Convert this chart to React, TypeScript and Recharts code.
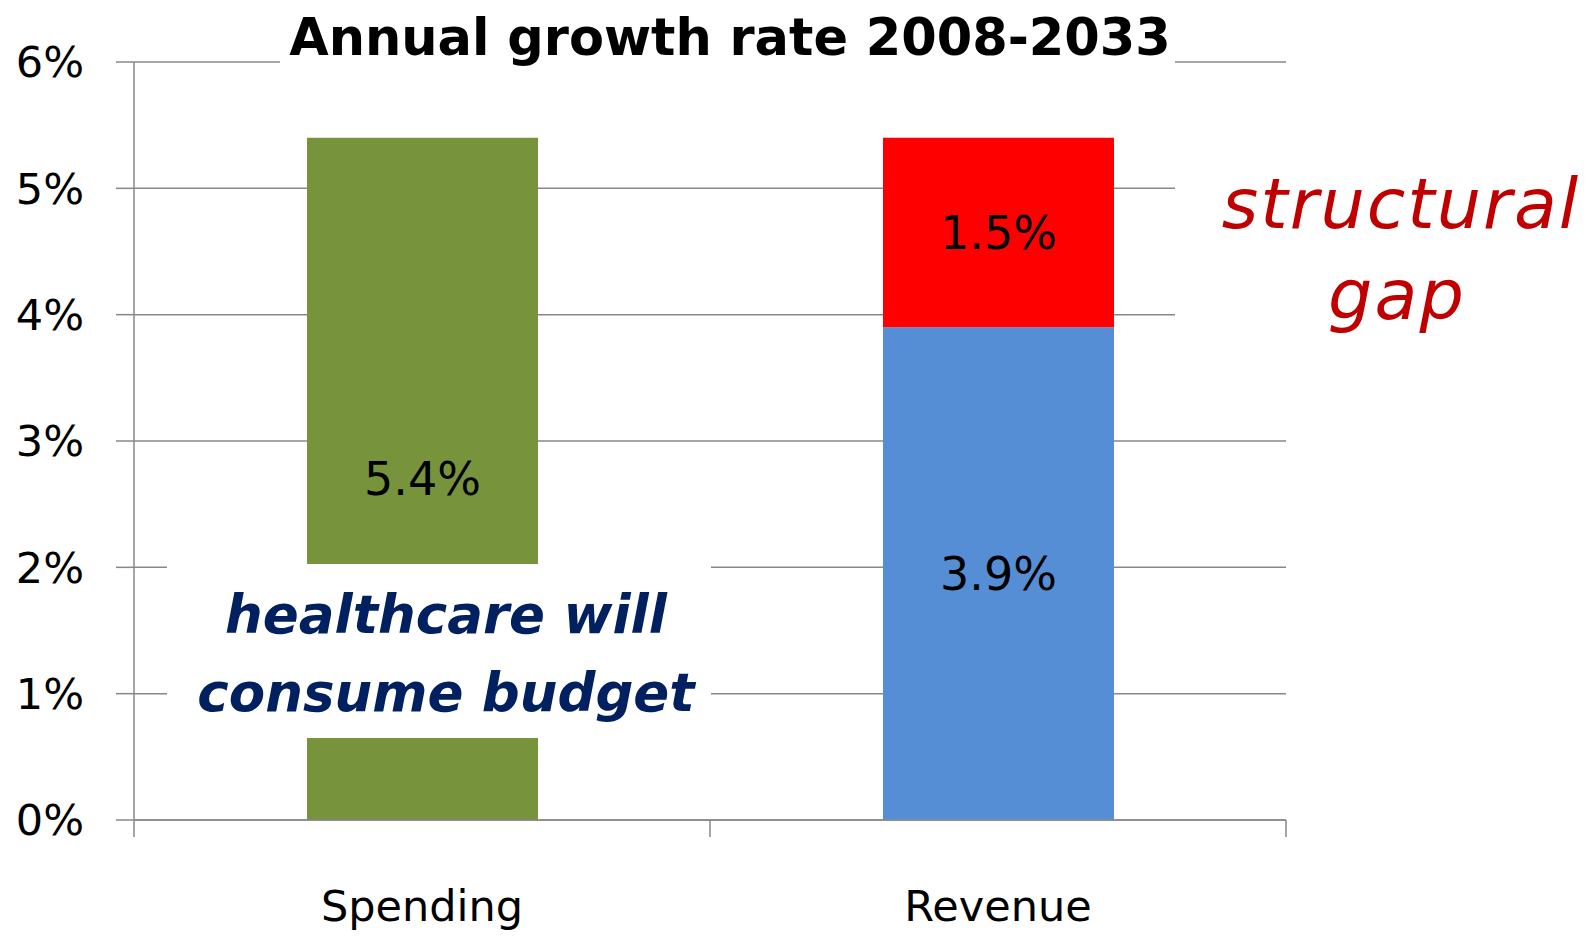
import React from 'react';
import { BarChart, Bar, XAxis, YAxis, CartesianGrid, Cell, LabelList } from 'recharts';

const categories = ['Spending', 'Revenue'];
const baseValues = [5.4, 3.9];
const gapValues = [0, 1.5];
const baseColors = ['#77933C', '#558ED5'];
const gapColor = '#FF0000';
const yTicks = [0, 1, 2, 3, 4, 5, 6];
const title = 'Annual growth rate 2008-2033';
const noteLeft = ['healthcare will', 'consume budget'];
const noteRight = ['structural', 'gap'];

const data = categories.map((c, i) => ({ name: c, base: baseValues[i], gap: gapValues[i] }));

const FONT = '"DejaVu Sans", Verdana, sans-serif';
const GRID = '#888888';
const W = 1591;
const H = 937;

const Overlay = () => (
  <svg width={W} height={H} style={{ position: 'absolute', left: 0, top: 0, pointerEvents: 'none' }}>
    <rect x={280} y={30} width={895} height={60} fill="#fff" />
    <text x={730} y={55} textAnchor="middle" fontFamily={FONT} fontWeight="bold" fontSize={51} fill="#000">{title}</text>
    <rect x={167} y={564} width={544} height={174} fill="#fff" />
    <text x={446} y={633} textAnchor="middle" fontFamily={FONT} fontWeight="bold" fontStyle="italic" fontSize={53} fill="#002060">{noteLeft[0]}</text>
    <text x={446} y={711} textAnchor="middle" fontFamily={FONT} fontWeight="bold" fontStyle="italic" fontSize={53} fill="#002060">{noteLeft[1]}</text>
    <rect x={1175} y={140} width={416} height={210} fill="#fff" />
    <text x={1401} y={228} textAnchor="middle" fontFamily={FONT} fontStyle="italic" fontSize={70} letterSpacing={2} fill="#C00000">{noteRight[0]}</text>
    <text x={1397} y={319} textAnchor="middle" fontFamily={FONT} fontStyle="italic" fontSize={70} letterSpacing={2} fill="#C00000">{noteRight[1]}</text>
  </svg>
);

const pct = (v: any) => (v ? `${v}%` : '');

const CatTick = (props: any) => {
  const { x, y, payload, index, visibleTicksCount, width } = props;
  const count = visibleTicksCount || categories.length;
  const half = payload && payload.offset ? payload.offset : (width || 0) / count / 2;
  const isLast = index === count - 1;
  return (
    <g>
      <line x1={x - half} x2={x - half} y1={y} y2={y + 17} stroke={GRID} strokeWidth={1.5} />
      {isLast && <line x1={x + half} x2={x + half} y1={y} y2={y + 17} stroke={GRID} strokeWidth={1.5} />}
      <text x={x} y={y + 70} dy="0.71em" textAnchor="middle" fontFamily={FONT} fontSize={43} fill="#000">{payload.value}</text>
    </g>
  );
};

export default function App() {
  return (
    <div style={{ position: 'absolute', left: 0, top: 0, width: W, height: H, background: '#fff' }}>
      <BarChart width={W} height={H} data={data} margin={{ top: 62, right: 305, bottom: 0, left: 0 }} barSize={231}>
        <CartesianGrid vertical={false} stroke={GRID} strokeWidth={1.5} />
        <XAxis dataKey="name" tickLine={false} height={117} tickSize={0} tickMargin={0} interval={0}
          stroke={GRID} strokeWidth={1.5} tick={CatTick} />
        <YAxis domain={[0, 6]} ticks={yTicks} interval={0} tickFormatter={(v) => `${v}%`} width={134} tickSize={18} tickMargin={32}
          stroke={GRID} strokeWidth={1.5} tick={{ fontFamily: FONT, fontSize: 43, fill: '#000' }} />
        <Bar dataKey="base" stackId="s" isAnimationActive={false}>
          {data.map((d, i) => <Cell key={d.name} fill={baseColors[i]} />)}
          <LabelList dataKey="base" position="center" formatter={pct} fontFamily={FONT} fontSize={46} fill="#000" />
        </Bar>
        <Bar dataKey="gap" stackId="s" fill={gapColor} isAnimationActive={false}>
          <LabelList dataKey="gap" position="center" formatter={pct} fontFamily={FONT} fontSize={46} fill="#000" />
        </Bar>
      </BarChart>
      <Overlay />
    </div>
  );
}
